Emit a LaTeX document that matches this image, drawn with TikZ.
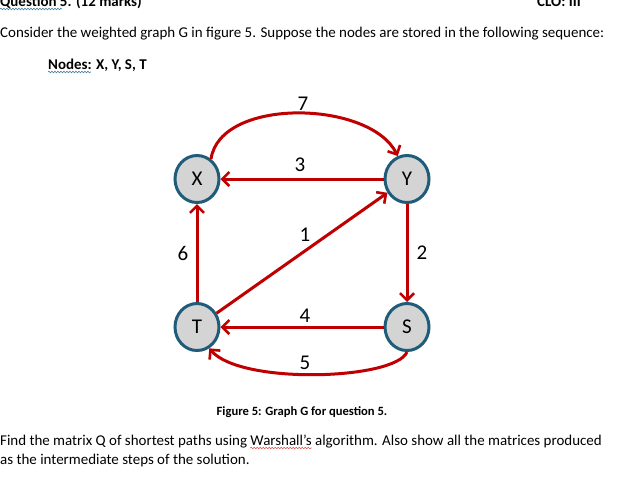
\documentclass[tikz,border=0pt]{standalone}
\usepackage{fontspec}
\setmainfont{Carlito}
\usetikzlibrary{arrows.meta,shapes.geometric,decorations.pathmorphing}
\definecolor{edgered}{HTML}{C00000}
\definecolor{nodeblue}{HTML}{1F5C7A}
\definecolor{nodefill}{HTML}{D4D4D4}
\definecolor{gramblue}{HTML}{4A7FA0}
\definecolor{spellred}{HTML}{E05050}
\newcommand{\bodyfont}{\fontsize{14.95}{18}\selectfont}
\newlength{\preW}\newlength{\wordW}
\begin{document}
\settowidth{\preW}{\bodyfont Find the matrix Q of shortest paths using }%
\settowidth{\wordW}{\bodyfont Warshall’s}%
\begin{tikzpicture}[x=1pt,y=-1pt,
  vert/.style={ellipse,draw=nodeblue,line width=3pt,fill=nodefill,
    minimum width=44pt,minimum height=47pt,inner sep=0pt,
    font=\fontsize{21}{24}\selectfont},
  edge/.style={draw=edgered,line width=3pt,
    -{Straight Barb[length=7pt,width=14pt,line width=2.6pt]}},
  wlabel/.style={font=\fontsize{21}{24}\selectfont,inner sep=0pt},
  body/.style={font=\bodyfont,inner sep=0pt,anchor=base west},
  bodybold/.style={body,font=\bfseries\bodyfont},
  squig/.style={decorate,decoration={snake,amplitude=0.8pt,segment length=3pt},line width=0.6pt}]
\useasboundingbox (0,0) rectangle (644,477);
\fill[white] (0,0) rectangle (644,477);

% header texts
\node[bodybold] (q) at (0,6) {Question 5. (12 marks)};
\node[bodybold] (clo) at (537,6) {CLO: III};
\node[body] (intro) at (0,37) {Consider the weighted graph G in figure 5. Suppose the nodes are stored in the following sequence:};
\node[bodybold] (nodes) at (48,69) {Nodes: X, Y, S, T};

% graph nodes
\node[vert] (X) at (197,179) {X};
\node[vert] (Y) at (407,179) {Y};
\node[vert] (T) at (197,327) {T};
\node[vert] (S) at (407,327) {S};

% edges
\draw[edge] (X.55) .. controls (220,97) and (370,100) .. (Y.112);
\draw[edge] (Y) -- (X);
\draw[edge] (T) -- (X);
\draw[edge] (T) -- (Y);
\draw[edge] (Y) -- (S);
\draw[edge] (S) -- (T);
\draw[edge] (S.south) .. controls (395,380) and (240,385) .. (T.-60);

% weights
\node[wlabel] (w7) at (303,104) {7};
\node[wlabel] (w3) at (300,165) {3};
\node[wlabel] (w6) at (183,253) {6};
\node[wlabel] (w1) at (305,235) {1};
\node[wlabel] (w2) at (422,253) {2};
\node[wlabel] (w4) at (305,316) {4};
\node[wlabel] (w5) at (305,363) {5};

% caption and question
\node[font=\bfseries\fontsize{12.6}{14}\selectfont,inner sep=0pt,anchor=base] (cap) at (302,415) {Figure 5: Graph G for question 5.};
\node[body] (find) at (0,445) {Find the matrix Q of shortest paths using Warshall’s algorithm. Also show all the matrices produced};
\node[body] (sol) at (0,464) {as the intermediate steps of the solution.};

% proofing underlines
\draw[squig,draw=gramblue] (q.base west) ++(0,3) -- ++(62,0);
\draw[squig,draw=gramblue] (nodes.base west) ++(0,3) -- ++(43,0);
\draw[squig,draw=spellred] (find.base west) ++(\preW,3) -- ++(\wordW,0);
\end{tikzpicture}
\end{document}
